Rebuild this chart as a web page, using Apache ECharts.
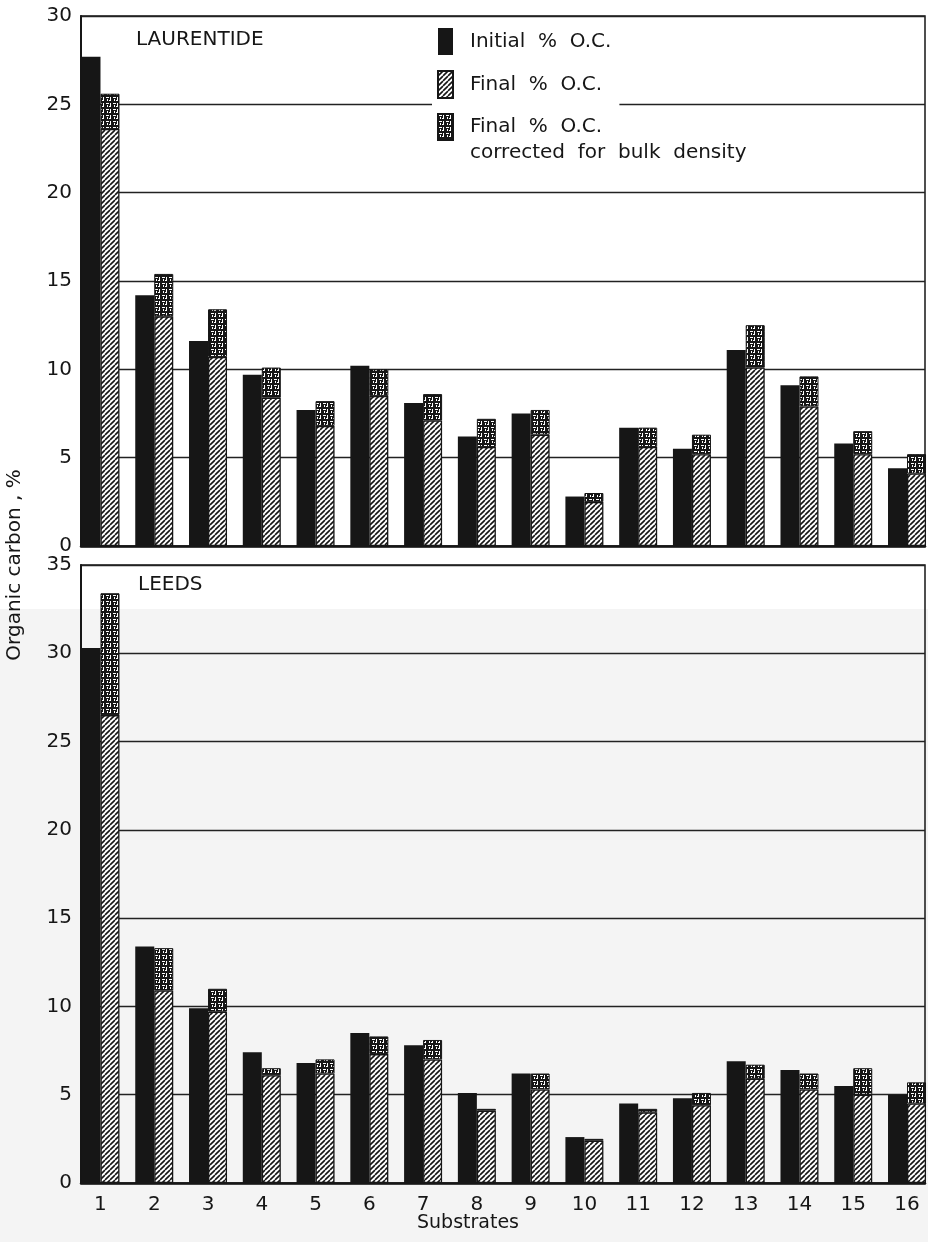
<!DOCTYPE html>
<html>
<head>
<meta charset="utf-8">
<script src="https://cdn.jsdelivr.net/npm/echarts@6/dist/echarts.min.js"></script>
<style>
  html, body { margin: 0; padding: 0; background: #ffffff; }
  #chart { width: 928px; height: 1242px; }
</style>
</head>
<body>
<div id="chart"></div>
<script>
// Substrate numbers along the x axis
const substrateLabels = ['1', '2', '3', '4', '5', '6', '7', '8', '9', '10', '11', '12', '13', '14', '15', '16'];

// Laurentide: organic carbon, %
const laurentideInitial   = [27.7, 14.2, 11.6, 9.7, 7.7, 10.2, 8.1, 6.2, 7.5, 2.8, 6.7, 5.5, 11.1, 9.1, 5.8, 4.4];
const laurentideFinal     = [23.6, 13.0, 10.7, 8.4, 6.8, 8.5, 7.1, 5.6, 6.3, 2.5, 5.6, 5.2, 10.1, 7.9, 5.2, 4.1];
const laurentideCorrected = [25.6, 15.4, 13.4, 10.1, 8.2, 10.0, 8.6, 7.2, 7.7, 3.0, 6.7, 6.3, 12.5, 9.6, 6.5, 5.2];

// Leeds: organic carbon, %
const leedsInitial   = [30.3, 13.4, 9.9, 7.4, 6.8, 8.5, 7.8, 5.1, 6.2, 2.6, 4.5, 4.8, 6.9, 6.4, 5.5, 5.0];
const leedsFinal     = [26.5, 10.9, 9.7, 6.1, 6.2, 7.3, 7.0, 4.1, 5.3, 2.4, 4.0, 4.4, 5.9, 5.3, 5.0, 4.5];
const leedsCorrected = [33.4, 13.3, 11.0, 6.5, 7.0, 8.3, 8.1, 4.2, 6.2, 2.5, 4.2, 5.1, 6.7, 6.2, 6.5, 5.7];

// Y axis tick values (every 5)
const laurentideTicks = [0, 5, 10, 15, 20, 25, 30];
const leedsTicks = [0, 5, 10, 15, 20, 25, 30, 35];

const INK = '#161616';
const FONT = 'DejaVu Sans';

// Panel placement: the framed plot area and the wider band area the bars sit in
const FRAME = { left: 81, width: 844 };
const BANDS = { left: 73.6, width: 860.3 };
const PANELS = [{ top: 16, height: 530 }, { top: 565, height: 618 }];

// Diagonal hatching for "Final % O.C."
function hatchCanvas() {
  const c = document.createElement('canvas');
  c.width = 5; c.height = 5;
  const g = c.getContext('2d');
  g.fillStyle = '#ffffff';
  g.fillRect(0, 0, 5, 5);
  g.strokeStyle = INK;
  g.lineWidth = 1.6;
  g.beginPath();
  for (const k of [-5, 0, 5]) { g.moveTo(k, 5); g.lineTo(k + 5, 0); }
  g.stroke();
  return c;
}

// Dark speckled fill for the bulk-density correction
function speckleCanvas() {
  const c = document.createElement('canvas');
  c.width = 7; c.height = 6;
  const g = c.getContext('2d');
  g.fillStyle = INK;
  g.fillRect(0, 0, 7, 6);
  g.fillStyle = '#ffffff';
  g.fillRect(1, 1, 3, 1);
  g.fillRect(5, 1, 1, 3);
  g.fillRect(2, 3, 1, 2);
  g.fillRect(4, 4, 2, 1);
  return c;
}

const hatchFill = { image: hatchCanvas(), repeat: 'repeat' };
const speckleFill = { image: speckleCanvas(), repeat: 'repeat' };

const NAME_INITIAL = 'Initial % O.C.';
const NAME_FINAL = 'Final % O.C.';
const NAME_CORR = 'Final % O.C. corrected for bulk density';

// Grids 0/2 carry the frame, y labels and grid lines; grids 1/3 carry the bars
const grids = [];
const xAxes = [];
const yAxes = [];
PANELS.forEach((p, k) => {
  const ticks = k === 0 ? laurentideTicks : leedsTicks;
  const yRange = { min: ticks[0], max: ticks[ticks.length - 1], interval: ticks[1] - ticks[0] };
  const frameIdx = 2 * k;
  const barIdx = 2 * k + 1;

  grids.push({
    left: FRAME.left, width: FRAME.width, top: p.top, height: p.height,
    outerBoundsMode: 'none', containLabel: false,
    show: true, borderColor: INK, borderWidth: 1.5, backgroundColor: 'transparent'
  });
  grids.push({
    left: BANDS.left, width: BANDS.width, top: p.top, height: p.height,
    outerBoundsMode: 'none', containLabel: false
  });

  xAxes.push({
    type: 'value', gridIndex: frameIdx, min: 0, max: 1,
    splitLine: { show: false }, axisTick: { show: false }, axisLabel: { show: false },
    axisLine: { show: true, onZero: false, lineStyle: { color: INK, width: 2.5 } }
  });
  xAxes.push({
    type: 'category', gridIndex: barIdx, data: substrateLabels,
    axisLine: { show: false }, axisTick: { show: false }, splitLine: { show: false },
    axisLabel: k === 1
      ? { show: true, interval: 0, fontFamily: FONT, fontSize: 20, color: INK, margin: 12 }
      : { show: false }
  });

  yAxes.push(Object.assign({
    type: 'value', gridIndex: frameIdx,
    axisLine: { show: true, lineStyle: { color: INK, width: 2 } },
    axisTick: { show: false },
    axisLabel: { fontFamily: FONT, fontSize: 20, color: INK, margin: 9 },
    splitLine: { show: true, lineStyle: { color: '#222222', width: 1.3 } }
  }, yRange));
  yAxes.push(Object.assign({ type: 'value', gridIndex: barIdx, show: false, splitLine: { show: false } }, yRange));
});

function panelSeries(axisIdx, initial, fin, corrected) {
  const common = { type: 'bar', xAxisIndex: axisIdx, yAxisIndex: axisIdx, barWidth: 19, barGap: 0 };
  return [
    Object.assign({}, common, {
      name: NAME_INITIAL,
      data: initial,
      itemStyle: { color: INK }
    }),
    Object.assign({}, common, {
      name: NAME_FINAL,
      stack: 'final' + axisIdx,
      data: fin,
      itemStyle: { color: hatchFill, borderColor: INK, borderWidth: 1.3 }
    }),
    Object.assign({}, common, {
      name: NAME_CORR,
      stack: 'final' + axisIdx,
      // only the part above the final value is drawn speckled
      data: corrected.map((v, i) => +(v - fin[i]).toFixed(2)),
      itemStyle: { color: speckleFill, borderColor: INK, borderWidth: 1 }
    })
  ];
}

const chart = echarts.init(document.getElementById('chart'), null, { renderer: 'canvas' });

chart.setOption({
  animation: false,
  backgroundColor: '#ffffff',
  textStyle: { fontFamily: FONT },
  grid: grids,
  xAxis: xAxes,
  yAxis: yAxes,
  legend: [
    {
      orient: 'vertical',
      left: 432, top: 23,
      data: [NAME_INITIAL, NAME_FINAL],
      icon: 'rect',
      itemWidth: 15, itemHeight: 27, itemGap: 15,
      backgroundColor: '#ffffff',
      padding: [5, 8, 9, 5],
      selectedMode: false,
      formatter: (n) => n === NAME_INITIAL ? 'Initial  %  O.C.' : 'Final  %  O.C.',
      textStyle: { fontFamily: FONT, fontSize: 20, color: INK, padding: [0, 0, 0, 12] }
    },
    {
      orient: 'vertical',
      left: 432, top: 108,
      data: [NAME_CORR],
      icon: 'rect',
      itemWidth: 15, itemHeight: 26,
      selectedMode: false,
      formatter: () => 'Final  %  O.C.',
      textStyle: { fontFamily: FONT, fontSize: 20, color: INK, padding: [0, 0, 0, 12] }
    }
  ],
  graphic: [
    {
      type: 'rect', z: -10, silent: true,
      shape: { x: 0, y: 609, width: 928, height: 633 },
      style: { fill: '#f4f4f4' }
    },
    {
      // second line of the third legend entry
      type: 'text', x: 470, y: 153, silent: true,
      style: { text: 'corrected  for  bulk  density', fontFamily: FONT, fontSize: 20, fill: INK, verticalAlign: 'middle' }
    },
    {
      type: 'text', left: 136, top: 30, silent: true,
      style: { text: 'LAURENTIDE', fontFamily: FONT, fontSize: 20, fill: INK }
    },
    {
      type: 'text', left: 138, top: 575, silent: true,
      style: { text: 'LEEDS', fontFamily: FONT, fontSize: 20, fill: INK }
    },
    {
      type: 'text', x: 15, y: 565, rotation: Math.PI / 2, silent: true,
      style: { text: 'Organic carbon , %', fontFamily: FONT, fontSize: 20, fill: INK, align: 'center', verticalAlign: 'middle' }
    },
    {
      type: 'text', x: 468, y: 1223, silent: true,
      style: { text: 'Substrates', fontFamily: FONT, fontSize: 19, fill: INK, align: 'center', verticalAlign: 'middle' }
    }
  ],
  series: [].concat(
    panelSeries(1, laurentideInitial, laurentideFinal, laurentideCorrected),
    panelSeries(3, leedsInitial, leedsFinal, leedsCorrected)
  )
});
</script>
</body>
</html>
